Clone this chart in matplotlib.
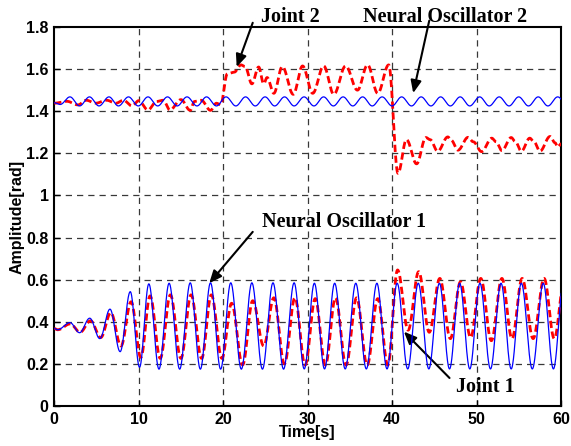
# %% Imports

import numpy as np
import matplotlib
matplotlib.use('Agg')
import matplotlib.pyplot as plt
from matplotlib.ticker import FuncFormatter

# %% Data (turning points: time [s], amplitude [rad])

# Neural oscillator 1 (blue, lower)
osc1_t = [0, 0.4, 1.86, 3.0, 4.2, 5.4, 6.6, 7.8, 9.0, 10.1, 11.2, 12.4, 13.6, 14.85, 16.1, 17.3,
          18.5, 19.7, 20.9, 22.15, 23.4, 24.65, 25.9, 27.15, 28.4, 29.6, 30.8, 32.0, 33.2, 34.45,
          35.7, 36.95, 38.2, 39.4, 40.6, 41.85, 43.1, 44.35, 45.6, 46.8, 48.0, 49.2, 50.4, 51.65,
          52.9, 54.1, 55.3, 56.6, 57.9, 59.1, 60.3]
osc1_v = [0.368, 0.362, 0.396, 0.348, 0.417, 0.32, 0.46, 0.258, 0.543, 0.184, 0.58, 0.175, 0.583,
          0.175, 0.585, 0.175, 0.585, 0.175, 0.585, 0.175, 0.585, 0.175, 0.585, 0.175, 0.585, 0.176,
          0.583, 0.176, 0.583, 0.176, 0.583, 0.176, 0.583, 0.176, 0.583, 0.176, 0.583, 0.176, 0.583,
          0.176, 0.583, 0.176, 0.583, 0.176, 0.583, 0.176, 0.583, 0.176, 0.583, 0.176, 0.583]

# Joint 1 (red dashed, lower)
joint1_t = [0, 0.4, 1.9, 3.05, 4.3, 5.5, 6.7, 7.9, 9.1, 10.25, 11.35, 12.55, 13.75, 15.0, 16.2,
            17.45, 18.6, 19.85, 21.0, 22.3, 23.5, 24.8, 26.0, 27.25, 28.5, 29.7, 30.9, 32.1, 33.3,
            34.55, 35.8, 37.05, 38.3, 39.5, 40.65, 41.9, 43.15, 44.4, 45.65, 46.9, 48.1, 49.3,
            50.5, 51.75, 53.0, 54.2, 55.4, 56.7, 58.0, 59.2, 60.4]
joint1_v = [0.368, 0.362, 0.39, 0.35, 0.405, 0.325, 0.443, 0.285, 0.495, 0.231, 0.523, 0.226, 0.528,
            0.226, 0.528, 0.226, 0.528, 0.226, 0.488, 0.195, 0.50, 0.285, 0.514, 0.20, 0.514, 0.194,
            0.51, 0.194, 0.514, 0.194, 0.514, 0.194, 0.51, 0.194, 0.646, 0.36, 0.638, 0.35, 0.606,
            0.32, 0.59, 0.325, 0.606, 0.31, 0.606, 0.32, 0.606, 0.32, 0.606, 0.32, 0.60]

# Neural oscillator 2 (blue, upper)
osc2_t = [0, 0.7, 1.86, 3.0, 4.17, 5.3, 6.48, 7.6, 8.79, 9.95, 11.1, 12.25, 13.41, 14.55, 15.72,
          16.9, 18.03, 19.2, 20.34, 21.5, 22.65, 23.8, 24.96, 26.1, 27.27, 28.4, 29.58, 30.75,
          31.89, 33.05, 34.2, 35.35, 36.51, 37.65, 38.82, 40.0, 41.13, 42.3, 43.44, 44.6, 45.75,
          46.9, 48.06, 49.2, 50.37, 51.5, 52.68, 53.85, 54.99, 56.15, 57.3, 58.45, 59.61, 60.8]
osc2_v = [1.44, 1.432] + [1.468, 1.425] * 26

# Joint 2 (red dashed, upper)
joint2_t = [0, 1.5, 2.8, 3.8, 4.9, 6.2, 7.3, 8.2, 9.2, 10.0, 11.1, 12.1, 12.9, 13.7, 15.0, 16.1,
            16.6, 17.4, 18.5, 19.2, 19.7, 20.5, 21.3, 22.1, 22.6, 23.4, 24.2, 24.8, 25.2, 26.0,
            27.0, 28.3, 29.4, 30.6, 31.9, 33.1, 34.5, 35.9, 37.1, 38.3, 39.6, 40.7, 41.7, 42.9,
            44.0, 44.5, 45.4, 46.6, 47.0, 47.8, 49.0, 49.6, 50.6, 51.8, 52.3, 53.0, 54.1, 54.6,
            55.3, 56.3, 56.8, 57.5, 58.7, 59.3, 59.6, 60.0]
joint2_v = [1.438, 1.447, 1.43, 1.452, 1.438, 1.452, 1.438, 1.452, 1.425, 1.45, 1.406, 1.446,
            1.452, 1.406, 1.455, 1.404, 1.446, 1.452, 1.404, 1.438, 1.43, 1.578, 1.585, 1.62,
            1.612, 1.53, 1.61, 1.53, 1.56, 1.485, 1.612, 1.48, 1.615, 1.485, 1.615, 1.48, 1.615,
            1.50, 1.62, 1.485, 1.62, 1.105, 1.265, 1.15, 1.275, 1.265, 1.21, 1.278, 1.262, 1.215,
            1.276, 1.255, 1.208, 1.272, 1.255, 1.213, 1.275, 1.255, 1.21, 1.272, 1.255, 1.21,
            1.28, 1.25, 1.23, 1.245]

x_ticks = [0, 10, 20, 30, 40, 50, 60]
y_ticks = [0, 0.2, 0.4, 0.6, 0.8, 1.0, 1.2, 1.4, 1.6, 1.8]


# %% Smooth curve through turning points (half-cosine between neighbours)

def through_turns(ts, vs, n=40):
    xs, ys = [], []
    for i in range(len(ts) - 1):
        s = np.linspace(0, 1, n, endpoint=False)
        xs.append(ts[i] + (ts[i + 1] - ts[i]) * s)
        ys.append(vs[i] + (vs[i + 1] - vs[i]) * (1 - np.cos(np.pi * s)) / 2)
    xs.append([ts[-1]])
    ys.append([vs[-1]])
    return np.concatenate(xs), np.concatenate(ys)


# %% Figure

fig = plt.figure(figsize=(5.71, 4.46), dpi=100)
fig.set_facecolor('white')
ax = fig.add_axes([0.095, 0.0897, 0.8875, 0.8498])

grid_kw = dict(color='#383838', lw=0.9, dashes=(5, 4), zorder=1)
for xt in x_ticks[1:-1]:
    ax.axvline(xt, **grid_kw)
for yt in y_ticks[1:-1]:
    ax.axhline(yt, **grid_kw)

red_kw = dict(color='#ff0000', lw=2.0, dashes=(2.6, 1.3), zorder=3)
blue_kw = dict(color='#0000ff', lw=0.9, zorder=4)

x, y = through_turns(osc2_t, osc2_v)
ax.plot(x, y, **blue_kw)
x, y = through_turns(joint2_t, joint2_v)
ax.plot(x, y, **red_kw)
x, y = through_turns(joint1_t, joint1_v)
ax.plot(x, y, **red_kw)
x, y = through_turns(osc1_t, osc1_v)
ax.plot(x, y, **blue_kw)

ax.set_xlim(0, 60)
ax.set_ylim(0, 1.8)
ax.set_xticks(x_ticks)
ax.set_yticks(y_ticks)
ax.yaxis.set_major_formatter(FuncFormatter(lambda v, p: f"{v:g}"))
ax.tick_params(direction='in', length=4, width=1, labelsize=11.5, pad=4)
for lab in ax.get_xticklabels() + ax.get_yticklabels():
    lab.set_fontweight('bold')
    lab.set_fontfamily('Liberation Sans')
for sp in ax.spines.values():
    sp.set_linewidth(1.5)

ax.set_xlabel('Time[s]', fontsize=11.5, fontweight='bold', family='Liberation Sans', labelpad=-1)
ax.set_ylabel('Amplitude[rad]', fontsize=11.5, fontweight='bold', family='Liberation Sans', labelpad=1)

# %% Annotations

txt_kw = dict(fontsize=14.5, fontweight='bold', family='Liberation Serif', ha='center', va='center',
              color='black', clip_on=False)
arrow_kw = dict(arrowstyle='-|>,head_length=0.75,head_width=0.32', color='black', lw=1.5,
                shrinkA=0, shrinkB=0)

ax.text(27.9, 1.848, 'Joint 2', **txt_kw)
ax.annotate('', xy=(21.6, 1.61), xytext=(23.5, 1.82), arrowprops=arrow_kw, annotation_clip=False)

ax.text(46.3, 1.849, 'Neural Oscillator 2', **txt_kw)
ax.annotate('', xy=(42.5, 1.486), xytext=(44.4, 1.83), arrowprops=arrow_kw, annotation_clip=False)

ax.text(34.3, 0.874, 'Neural Oscillator 1', **txt_kw)
ax.annotate('', xy=(18.35, 0.583), xytext=(23.5, 0.827), arrowprops=arrow_kw)

ax.text(51.0, 0.092, 'Joint 1', **txt_kw)
ax.annotate('', xy=(41.4, 0.353), xytext=(46.8, 0.133), arrowprops=arrow_kw)

plt.savefig('out.png', dpi=100)
